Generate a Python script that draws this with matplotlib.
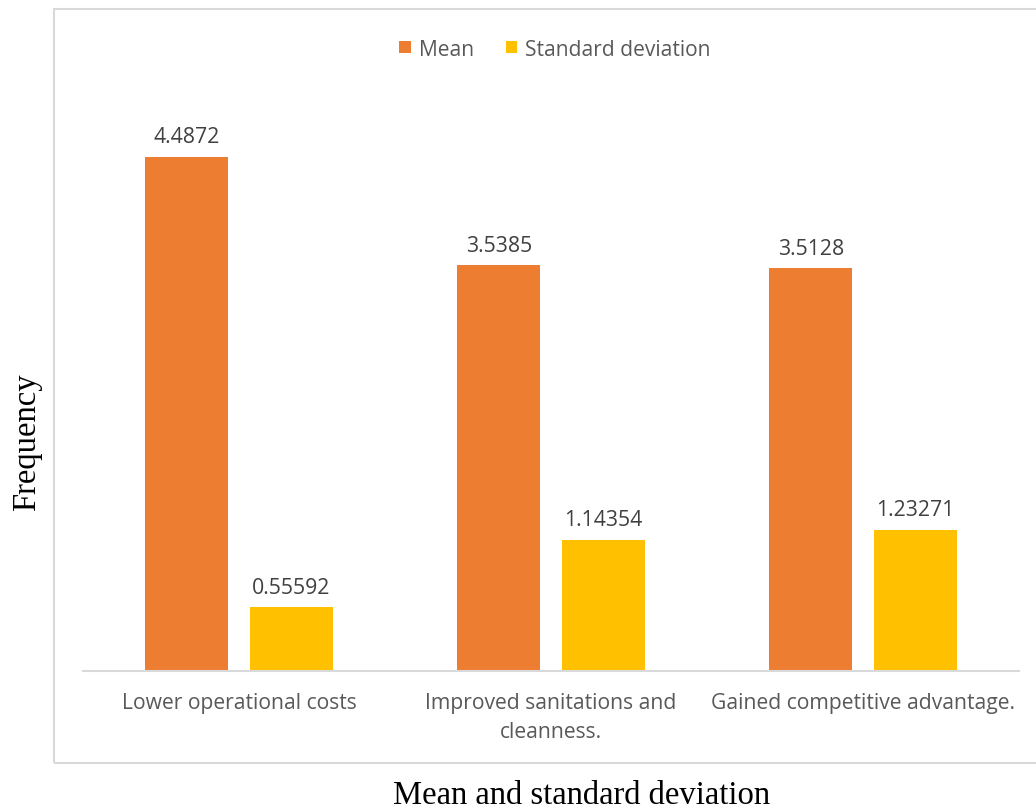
import matplotlib
matplotlib.use("Agg")
import matplotlib.pyplot as plt
from matplotlib.patches import Rectangle, Patch
import numpy as np

categories = ["Lower operational costs", "Improved sanitations and\ncleanness.", "Gained competitive advantage."]
mean_values = [4.4872, 3.5385, 3.5128]
std_values = [0.55592, 1.14354, 1.23271]
mean_labels = ["4.4872", "3.5385", "3.5128"]
std_labels = ["0.55592", "1.14354", "1.23271"]
series_names = ["Mean", "Standard deviation"]

ORANGE = "#ED7D31"
GOLD = "#FFC000"
TEXT = "#595959"
GRID = "#D9D9D9"
SANS = "Open Sans"
SERIF = "Liberation Serif"

W, H = 1036, 812
fig = plt.figure(figsize=(W / 100, H / 100), dpi=100)

# chart border
fig.patches.append(Rectangle((54 / W, 1 - 764 / H), (W + 10 - 54) / W, (764 - 10) / H,
                             transform=fig.transFigure, fill=False, edgecolor=GRID,
                             linewidth=1.5, zorder=0))

ax = fig.add_axes([83 / W, 1 - 672 / H, (1019 - 83) / W, (672 - 99) / H])
x = np.arange(len(categories))
bw = 0.266
off = 0.167
b1 = ax.bar(x - off, mean_values, bw, color=ORANGE, label=series_names[0], zorder=2)
b2 = ax.bar(x + off, std_values, bw, color=GOLD, label=series_names[1], zorder=2)

for rects, labels in ((b1, mean_labels), (b2, std_labels)):
    for r, lab in zip(rects, labels):
        ax.annotate(lab, (r.get_x() + r.get_width() / 2, r.get_height()),
                    xytext=(0, 7), textcoords="offset points", ha="center", va="bottom",
                    fontsize=15.3, color="#404040", family=SANS)

ax.set_xlim(-0.5, 2.5)
ax.set_ylim(0, 5)
ax.set_yticks([])
ax.set_xticks(x)
ax.set_xticklabels(categories, fontsize=15.2, color=TEXT, family=SANS, linespacing=1.5)
ax.tick_params(axis="x", length=0, pad=15)
for s in ("top", "right", "left"):
    ax.spines[s].set_visible(False)
ax.spines["bottom"].set_color(GRID)
ax.spines["bottom"].set_linewidth(1.5)

handles = [Patch(facecolor=ORANGE), Patch(facecolor=GOLD)]
fig.legend(handles, series_names, loc="center", bbox_to_anchor=(555 / W, 1 - 50 / H),
           ncol=2, frameon=False, prop={"family": SANS, "size": 15.1},
           labelcolor=TEXT, handlelength=0.55, handleheight=0.55, handletextpad=0.4,
           columnspacing=1.5)

fig.text(27 / W, 1 - 442 / H, "Frequency", rotation=90, ha="center", va="center",
         fontsize=23.5, family=SERIF, color="black")
fig.text(582 / W, 1 - 796 / H, "Mean and standard deviation", ha="center", va="center",
         fontsize=23.5, family=SERIF, color="black")

fig.savefig("out.png", dpi=100)
